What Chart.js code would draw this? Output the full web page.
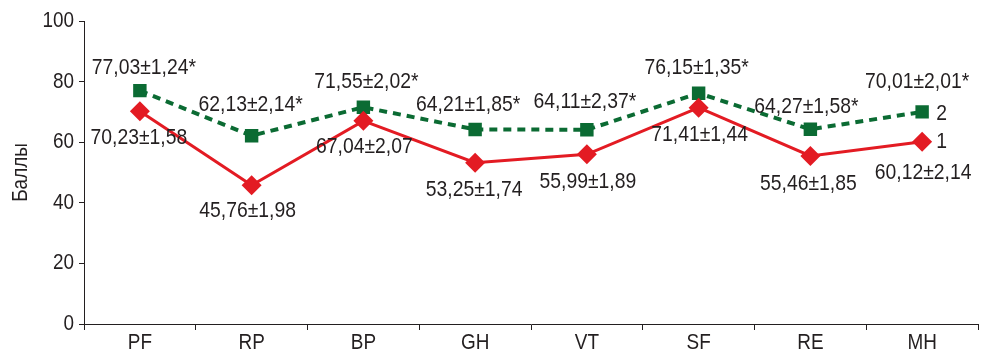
<!DOCTYPE html>
<html>
<head>
<meta charset="utf-8">
<script src="https://cdn.jsdelivr.net/npm/chart.js@4/dist/chart.umd.min.js"></script>
<style>
  html, body { margin: 0; padding: 0; background: #ffffff; }
  #wrap { width: 988px; height: 356px; position: relative; }
</style>
</head>
<body>
<div id="wrap"><canvas id="c" width="988" height="356"></canvas></div>
<script>
// SF-36 scale scores, group 1 and group 2 (mean ± standard error)
const categories = ['PF', 'RP', 'BP', 'GH', 'VT', 'SF', 'RE', 'MH'];
const group1Mean = [70.23, 45.76, 67.04, 53.25, 55.99, 71.41, 55.46, 60.12];
const group1Err  = [1.58, 1.98, 2.07, 1.74, 1.89, 1.44, 1.85, 2.14];
const group2Mean = [77.03, 62.13, 71.55, 64.21, 64.11, 76.15, 64.27, 70.01];
const group2Err  = [1.24, 2.14, 2.02, 1.85, 2.37, 1.35, 1.58, 2.01];
const yTicks = [0, 20, 40, 60, 80, 100];
const seriesNames = ['1', '2'];
const yTitle = 'Баллы';

// label placement relative to each marker (pixels)
const group1LabelOffset = [[-1, 27], [-4, 25], [1, 26], [-1, 27], [1, 27], [1, 27], [-2, 28], [1, 31]];
const group2LabelOffset = [[4, -23], [-1, -31], [3, -25], [-7, -25], [-2, -28], [-2, -25], [-4, -22], [-5, -30]];

const FONT = "'Liberation Sans', Arial, sans-serif";
const NARROW = 0.86;   // horizontal squeeze for a condensed look
const INK = '#231f20';
const RED = '#e31b23';
const GREEN = '#0b6b33';

const fmt = v => v.toFixed(2).replace('.', ',');

// draw text horizontally condensed around an anchor point
function narrowText(ctx, text, x, y, size, align, rotate) {
  ctx.save();
  ctx.translate(x, y);
  if (rotate) ctx.rotate(rotate);
  ctx.scale(NARROW, 1);
  ctx.font = size + 'px ' + FONT;
  ctx.textAlign = align;
  ctx.textBaseline = 'middle';
  ctx.fillStyle = INK;
  ctx.fillText(text, 0, 0);
  ctx.restore();
}

const axisText = {
  id: 'axisText',
  afterDraw(chart) {
    const ctx = chart.ctx;
    const xs = chart.scales.x, ys = chart.scales.y;
    ys.ticks.forEach(t => {
      narrowText(ctx, String(t.value), ys.right - 10, ys.getPixelForValue(t.value), 22, 'right');
    });
    xs.ticks.forEach((t, i) => {
      narrowText(ctx, categories[i], xs.getPixelForTick(i), xs.top + 19, 22, 'center');
    });
    narrowText(ctx, yTitle, 21, (ys.top + ys.bottom) / 2, 22, 'center', -Math.PI / 2);
  }
};

const valueLabels = {
  id: 'valueLabels',
  afterDatasetsDraw(chart) {
    const ctx = chart.ctx;
    chart.data.datasets.forEach((ds, di) => {
      const meta = chart.getDatasetMeta(di);
      meta.data.forEach((pt, i) => {
        const off = ds.labelOffset[i];
        const text = fmt(ds.data[i]) + '±' + fmt(ds.err[i]) + ds.mark;
        narrowText(ctx, text, pt.x + off[0], pt.y + off[1], 22.5, 'center');
      });
      // series number after the last marker
      const last = meta.data[meta.data.length - 1];
      narrowText(ctx, ds.label, last.x + 14, last.y + ds.nameDy, 22.5, 'left');
    });
  }
};

new Chart(document.getElementById('c'), {
  type: 'line',
  data: {
    labels: categories,
    datasets: [
      {
        label: seriesNames[0],
        data: group1Mean,
        err: group1Err,
        mark: '',
        labelOffset: group1LabelOffset,
        nameDy: 0,
        borderColor: RED,
        backgroundColor: RED,
        borderWidth: 3,
        pointStyle: 'rectRot',
        pointRadius: 10,
        pointHoverRadius: 10,
        pointBorderWidth: 0,
        tension: 0
      },
      {
        label: seriesNames[1],
        data: group2Mean,
        err: group2Err,
        mark: '*',
        labelOffset: group2LabelOffset,
        nameDy: 2,
        borderColor: GREEN,
        backgroundColor: GREEN,
        borderWidth: 4,
        borderDash: [8, 6],
        pointStyle: 'rect',
        pointRadius: 9.5,
        pointHoverRadius: 9.5,
        pointBorderWidth: 0,
        tension: 0
      }
    ]
  },
  options: {
    responsive: false,
    animation: false,
    events: [],
    layout: { padding: { top: 21, right: 6, bottom: 0, left: 0 } },
    plugins: {
      legend: { display: false },
      tooltip: { enabled: false }
    },
    scales: {
      x: {
        type: 'category',
        offset: true,
        grid: {
          offset: true,
          drawOnChartArea: false,
          drawTicks: true,
          tickLength: 6,
          color: INK,
          lineWidth: 1
        },
        border: { display: true, color: INK, width: 1 },
        ticks: { font: { family: FONT, size: 22 }, color: 'rgba(0,0,0,0)', padding: 2 },
        afterFit(scale) { scale.height = 32; }
      },
      y: {
        min: 0,
        max: 100,
        afterBuildTicks(scale) { scale.ticks = yTicks.map(v => ({ value: v })); },
        grid: {
          drawOnChartArea: false,
          drawTicks: true,
          tickLength: 5,
          color: INK,
          lineWidth: 1
        },
        border: { display: true, color: INK, width: 1 },
        ticks: { font: { family: FONT, size: 22 }, color: 'rgba(0,0,0,0)', padding: 4 },
        afterFit(scale) { scale.width = 84; }
      }
    }
  },
  plugins: [valueLabels, axisText]
});
</script>
</body>
</html>
